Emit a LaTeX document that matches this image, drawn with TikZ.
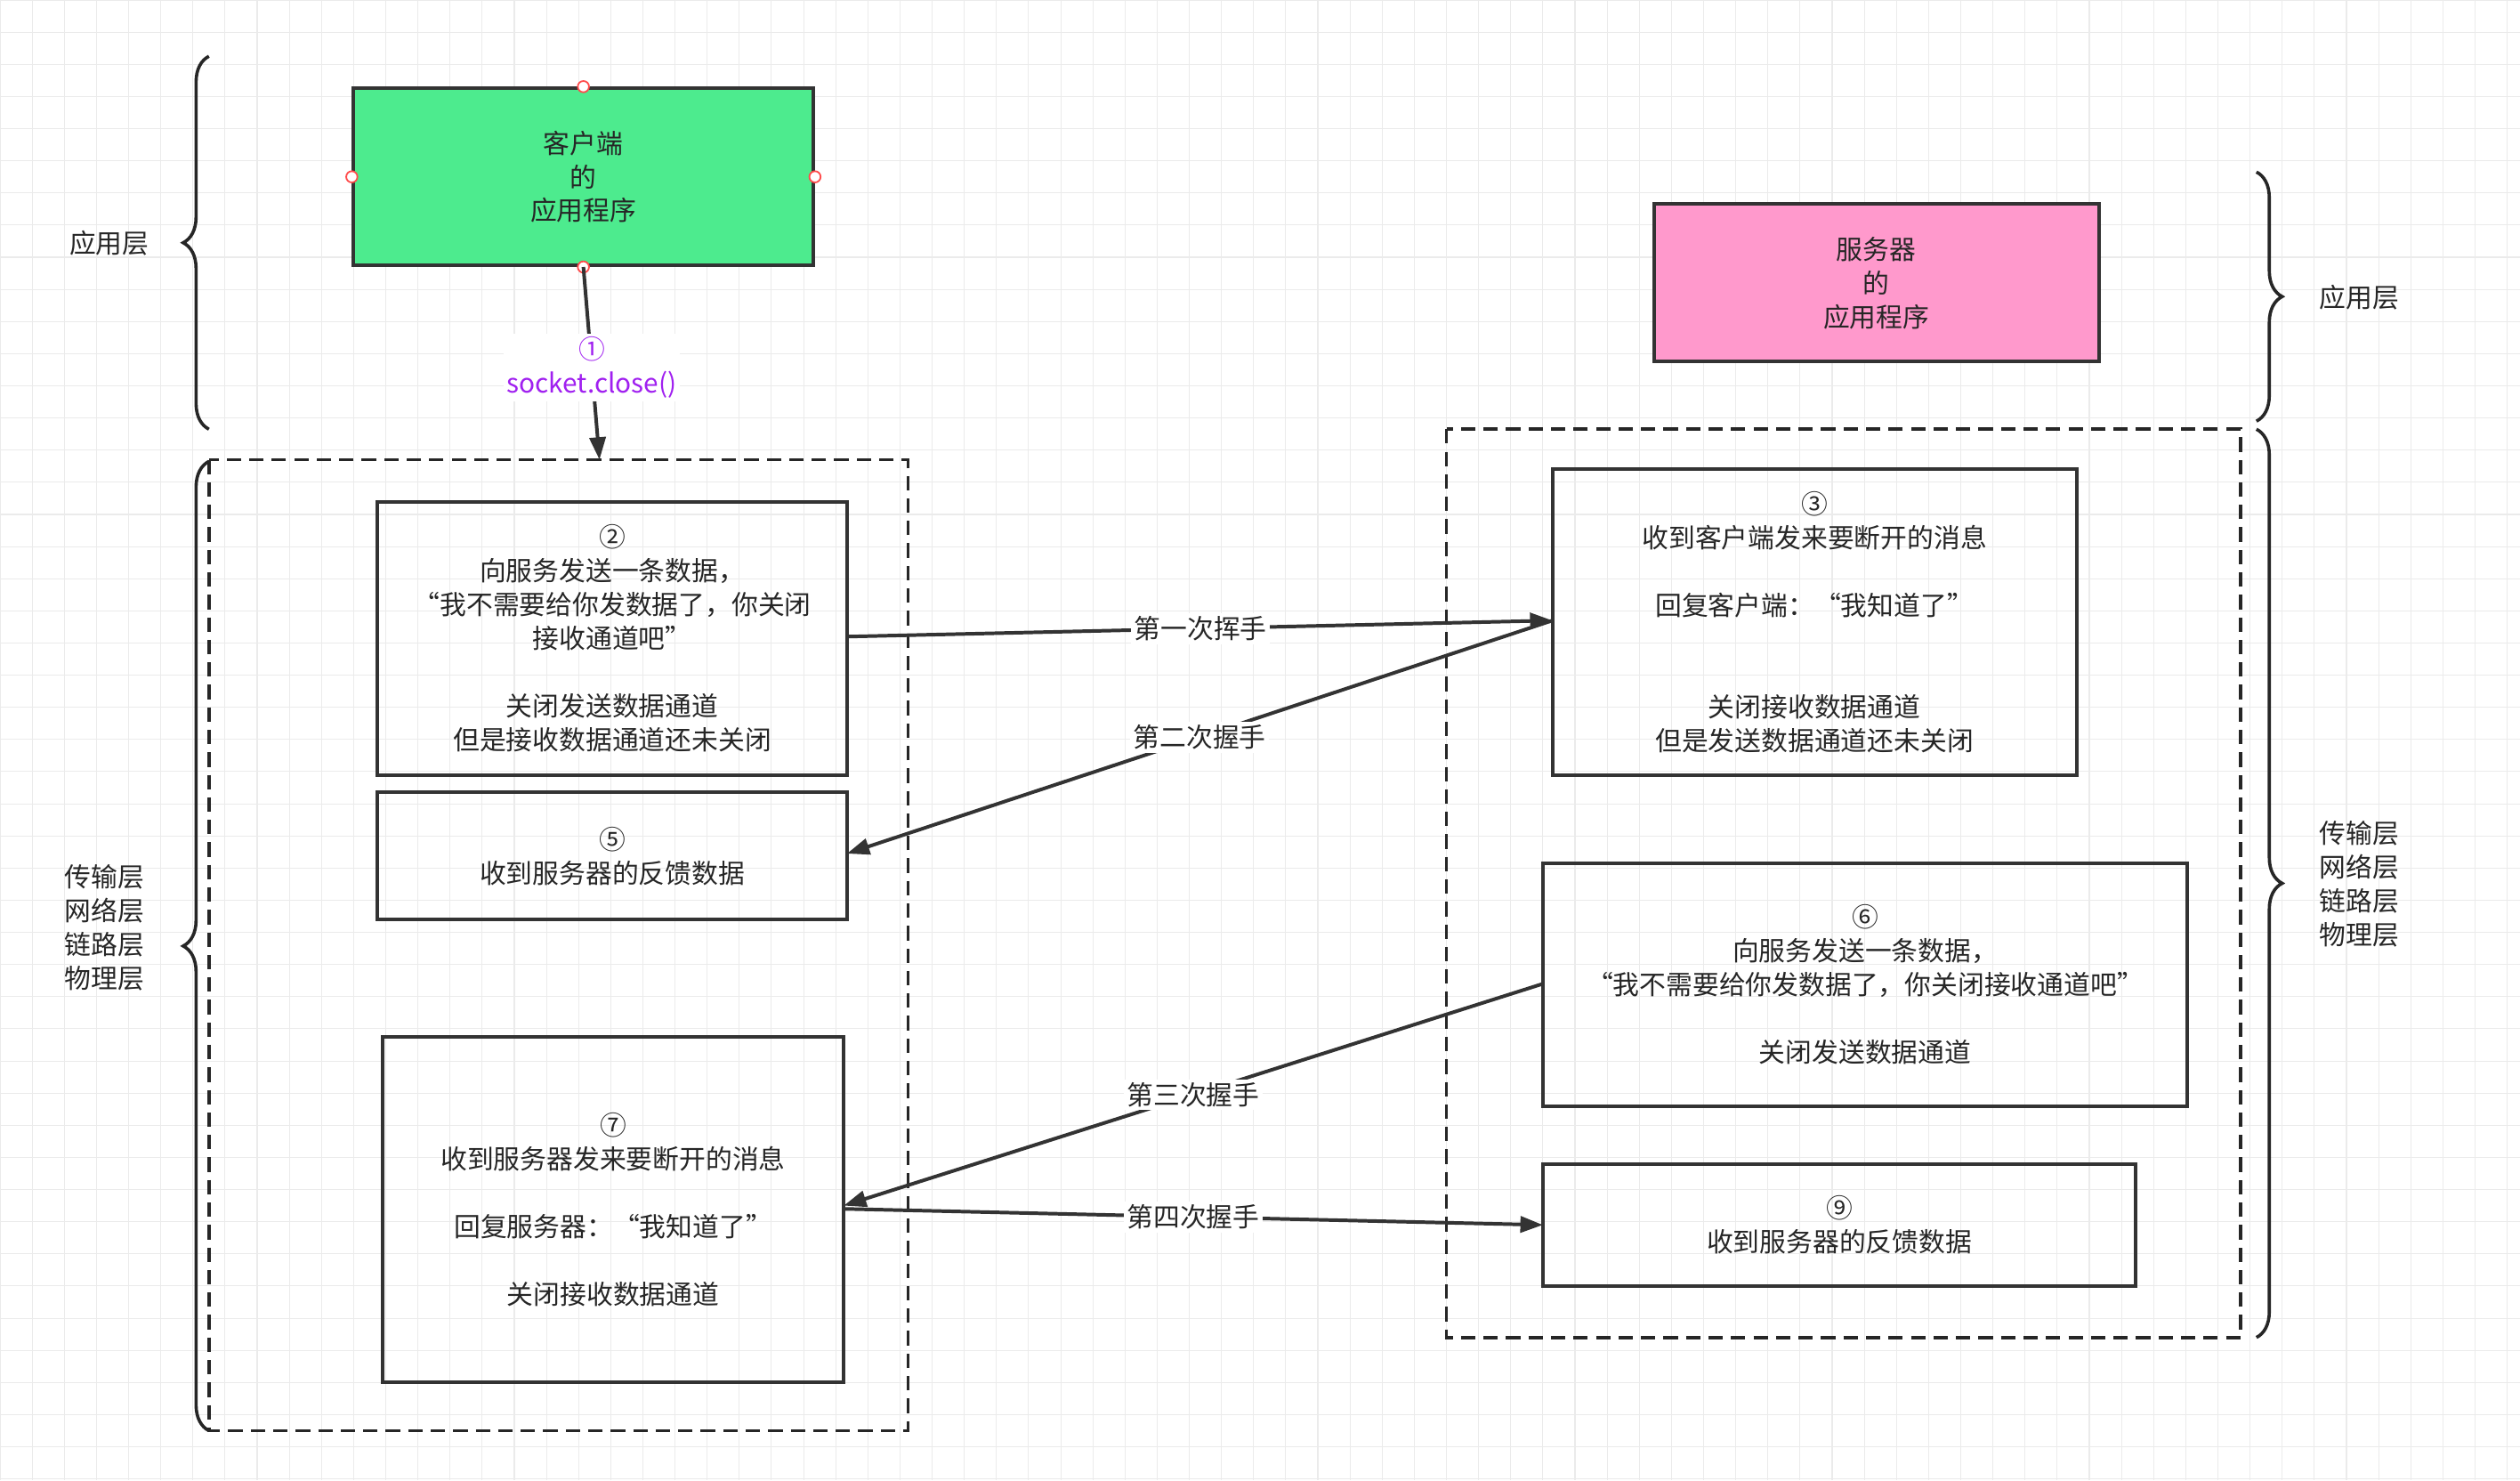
\documentclass[tikz,border=0pt]{standalone}
\usepackage{fontspec}
\setmainfont{Noto Sans CJK SC}
\usetikzlibrary{arrows.meta,decorations.pathreplacing}
\definecolor{gr}{HTML}{4DEB8E}
\definecolor{pk}{HTML}{FF99CC}
\definecolor{pu}{HTML}{A020F0}
\begin{document}
\begin{tikzpicture}[x=1pt,y=-1pt,
 every node/.style={font=\fontsize{16.5}{21}\selectfont,align=center,text=black!85},
 box/.style={draw=black!80,line width=2.2pt},
 dbox/.style={draw=black!85,line width=2pt,dash pattern=on 9pt off 5pt},
 arr/.style={draw=black!80,line width=2.2pt,-{Triangle[length=14pt,width=10pt]}},
 lab/.style={fill=white,inner sep=2pt},
 br/.style={draw=black!85,line width=2pt,decorate,decoration={brace,amplitude=16pt}},
 dot/.style={circle,draw=red!70,fill=white,line width=1pt,minimum size=7pt,inner sep=0pt}]
\useasboundingbox (0,0) rectangle (1568,921);
\fill[white] (0,0) rectangle (1568,921);
\foreach \i in {0,20,...,1560} \draw[black!8,line width=0.6pt] (\i,0) -- (\i,921);
\foreach \i in {0,20,...,920} \draw[black!8,line width=0.6pt] (0,\i) -- (1568,\i);
% braces
\draw[br] (130,267) -- (130,35); \node at (68,151) {应用层};
\draw[br] (130,890) -- (130,287); \node at (65,577) {传输层\\网络层\\链路层\\物理层};
\draw[br] (1404,107) -- (1404,262); \node at (1468,185) {应用层};
\draw[br] (1404,267) -- (1404,832); \node at (1468,550) {传输层\\网络层\\链路层\\物理层};
% dashed
\draw[dbox] (130,286) rectangle (565,890);
\draw[dbox] (900,267) rectangle (1394,832);
\coordinate (L) at (373,286);
% apps
\node[box,fill=gr,minimum width=286pt,minimum height=110pt] (cli) at (363,110) {客户端\\的\\应用程序};
\foreach \a in {north,south,east,west} \node[dot] at (cli.\a) {};
\node[box,fill=pk,minimum width=277pt,minimum height=98pt] (srv) at (1167.5,176) {服务器\\的\\应用程序};
% boxes
\node[box,minimum width=292pt,minimum height=170pt] (b2) at (381,397) {②\\向服务发送一条数据，\\“我不需要给你发数据了，你关闭\\接收通道吧”\\[21pt]关闭发送数据通道\\但是接收数据通道还未关闭};
\node[box,minimum width=292pt,minimum height=79pt] (b5) at (381,532.5) {⑤\\收到服务器的反馈数据};
\node[box,minimum width=287pt,minimum height=215pt] (b7) at (381.5,752.5) {⑦\\收到服务器发来要断开的消息\\[21pt]回复服务器：“我知道了”\\[21pt]关闭接收数据通道};
\node[box,minimum width=326pt,minimum height=190pt] (b3) at (1129,387) {③\\收到客户端发来要断开的消息\\[21pt]回复客户端：“我知道了”\\[42pt]关闭接收数据通道\\但是发送数据通道还未关闭};
\node[box,minimum width=401pt,minimum height=151pt] (b6) at (1160.5,612.5) {⑥\\向服务发送一条数据，\\“我不需要给你发数据了，你关闭接收通道吧”\\[21pt]关闭发送数据通道};
\node[box,minimum width=369pt,minimum height=76pt] (b9) at (1144.5,762) {⑨\\收到服务器的反馈数据};
% arrows
\draw[arr] (cli.south) -- node[lab,text=pu,pos=0.52]{①\\socket.close()} (L);
\draw[arr] (b2.east |- 0,396) -- node[lab]{第一次挥手} (966,386);
\draw[arr] (966,386) -- node[lab]{第二次握手} (527,531);
\draw[arr] (960,612) -- node[lab]{第三次握手} (525,750);
\draw[arr] (525,752) -- node[lab]{第四次握手} (960,762);
\end{tikzpicture}
\end{document}
